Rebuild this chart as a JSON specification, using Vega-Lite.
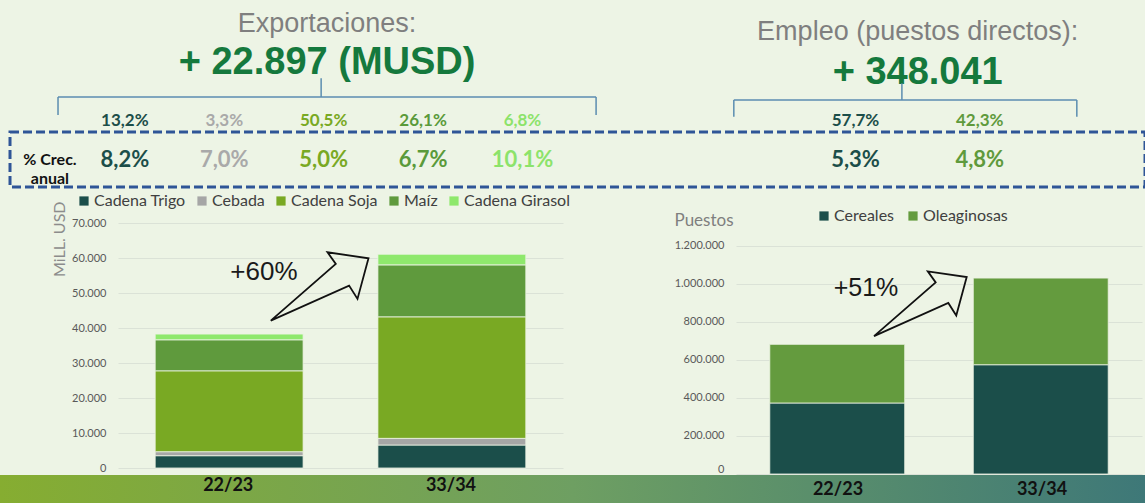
{
  "$schema": "https://vega.github.io/schema/vega-lite/v6.json",
  "background": "#edf4e5",
  "padding": 0,
  "columns": 1,
  "align": "none",
  "spacing": 0,
  "config": {
    "view": {"stroke": null},
    "locale": {"number": {"decimal": ",", "thousands": ".", "grouping": [3], "currency": ["", " USD"]}},
    "axis": {"labelFont": "Lato", "titleFont": "Lato"},
    "legend": {"labelFont": "Lato"}
  },
  "datasets": {
    "cabecera": [
      {"bloque": "Exportaciones", "titulo": "Exportaciones:", "valor": "+ 22.897 (MUSD)"},
      {"bloque": "Empleo", "titulo": "Empleo (puestos directos):", "valor": "+ 348.041"}
    ],
    "participacion": [
      {"grupo": "Exportaciones", "cadena": "Cadena Trigo", "participacion": 0.132, "crecimiento": 0.082},
      {"grupo": "Exportaciones", "cadena": "Cebada", "participacion": 0.033, "crecimiento": 0.070},
      {"grupo": "Exportaciones", "cadena": "Cadena Soja", "participacion": 0.505, "crecimiento": 0.050},
      {"grupo": "Exportaciones", "cadena": "Maíz", "participacion": 0.261, "crecimiento": 0.067},
      {"grupo": "Exportaciones", "cadena": "Cadena Girasol", "participacion": 0.068, "crecimiento": 0.101},
      {"grupo": "Empleo", "cadena": "Cereales", "participacion": 0.577, "crecimiento": 0.053},
      {"grupo": "Empleo", "cadena": "Oleaginosas", "participacion": 0.423, "crecimiento": 0.048}
    ],
    "indicador": [{"indicador": "% Crec.\nanual"}],
    "exportaciones": [
      {"campaña": "22/23", "cadena": "Cadena Trigo", "orden": 1, "valor": 3520},
      {"campaña": "22/23", "cadena": "Cebada", "orden": 2, "valor": 1150},
      {"campaña": "22/23", "cadena": "Cadena Soja", "orden": 3, "valor": 23130},
      {"campaña": "22/23", "cadena": "Maíz", "orden": 4, "valor": 8870},
      {"campaña": "22/23", "cadena": "Cadena Girasol", "orden": 5, "valor": 1630},
      {"campaña": "33/34", "cadena": "Cadena Trigo", "orden": 1, "valor": 6570},
      {"campaña": "33/34", "cadena": "Cebada", "orden": 2, "valor": 1910},
      {"campaña": "33/34", "cadena": "Cadena Soja", "orden": 3, "valor": 34760},
      {"campaña": "33/34", "cadena": "Maíz", "orden": 4, "valor": 14860},
      {"campaña": "33/34", "cadena": "Cadena Girasol", "orden": 5, "valor": 3040}
    ],
    "empleo": [
      {"campaña": "22/23", "cadena": "Cereales", "orden": 1, "valor": 373000},
      {"campaña": "22/23", "cadena": "Oleaginosas", "orden": 2, "valor": 308000},
      {"campaña": "33/34", "cadena": "Cereales", "orden": 1, "valor": 574000},
      {"campaña": "33/34", "cadena": "Oleaginosas", "orden": 2, "valor": 455000}
    ],
    "variaciones": [
      {"grafico": "exportaciones", "variacion": 0.60},
      {"grafico": "empleo", "variacion": 0.51}
    ],
    "campanas": [
      {"grafico": "Exportaciones", "campaña": "22/23"},
      {"grafico": "Exportaciones", "campaña": "33/34"},
      {"grafico": "Empleo", "campaña": "22/23"},
      {"grafico": "Empleo", "campaña": "33/34"}
    ]
  },
  "resolve": {"scale": {"color": "independent", "x": "independent", "y": "independent"}, "legend": {"color": "independent"}},
  "concat": [
    {
      "width": 1145,
      "height": 130,
      "layer": [
        {
          "data": {"name": "cabecera"},
          "transform": [{"filter": "datum.bloque === 'Exportaciones'"}],
          "layer": [
            {
              "mark": {"type": "text", "font": "Liberation Sans", "fontSize": 27, "color": "#7f7f7f", "align": "center", "baseline": "alphabetic"},
              "encoding": {
                "x": {"field": "bloque", "type": "nominal", "bandPosition": 0.5, "scale": {"type": "band", "paddingInner": 0, "paddingOuter": 0.564, "align": 0.0956}, "axis": null},
                "y": {"datum": "titulo", "type": "nominal", "bandPosition": 0.975, "scale": {"type": "band", "domain": ["titulo", "valor", "llave", "participacion"], "paddingInner": 0, "paddingOuter": 0}, "axis": null},
                "text": {"field": "titulo"}
              }
            },
            {
              "mark": {"type": "text", "font": "Liberation Sans", "fontSize": 38, "fontWeight": "bold", "color": "#15793d", "align": "center", "baseline": "alphabetic"},
              "encoding": {
                "x": {"field": "bloque", "type": "nominal", "bandPosition": 0.5, "axis": null},
                "y": {"datum": "valor", "type": "nominal", "bandPosition": 1.277, "axis": null},
                "text": {"field": "valor"}
              }
            },
            {
              "mark": {"type": "rule", "color": "#5b8db0", "strokeWidth": 1.5},
              "encoding": {
                "x": {"field": "bloque", "type": "nominal", "bandPosition": 0, "axis": null},
                "x2": {"field": "bloque", "bandPosition": 1},
                "y": {"datum": "llave", "type": "nominal", "bandPosition": 0.985, "axis": null}
              }
            },
            {
              "mark": {"type": "rule", "color": "#5b8db0", "strokeWidth": 1.5},
              "encoding": {
                "x": {"field": "bloque", "type": "nominal", "bandPosition": 0, "axis": null},
                "y": {"datum": "llave", "type": "nominal", "bandPosition": 0.985, "axis": null},
                "y2": {"datum": "llave", "bandPosition": 1.538}
              }
            },
            {
              "mark": {"type": "rule", "color": "#5b8db0", "strokeWidth": 1.5},
              "encoding": {
                "x": {"field": "bloque", "type": "nominal", "bandPosition": 1, "axis": null},
                "y": {"datum": "llave", "type": "nominal", "bandPosition": 0.985, "axis": null},
                "y2": {"datum": "llave", "bandPosition": 1.538}
              }
            },
            {
              "mark": {"type": "rule", "color": "#5b8db0", "strokeWidth": 1.5},
              "encoding": {
                "x": {"field": "bloque", "type": "nominal", "bandPosition": 0.489, "axis": null},
                "y": {"datum": "llave", "type": "nominal", "bandPosition": 0.985, "axis": null},
                "y2": {"datum": "llave", "bandPosition": 0.409}
              }
            }
          ]
        },
        {
          "data": {"name": "cabecera"},
          "transform": [{"filter": "datum.bloque === 'Empleo'"}],
          "layer": [
            {
              "mark": {"type": "text", "font": "Liberation Sans", "fontSize": 27, "color": "#7f7f7f", "align": "center", "baseline": "alphabetic", "dy": 8},
              "encoding": {
                "x": {"field": "bloque", "type": "nominal", "bandPosition": 0.536, "scale": {"type": "band", "paddingInner": 0.1446, "paddingOuter": 1, "align": 0.915}, "axis": null},
                "y": {"datum": "titulo", "type": "nominal", "bandPosition": 0.975, "scale": {"type": "band", "domain": ["titulo", "valor", "llave", "participacion"], "paddingInner": 0, "paddingOuter": 0}, "axis": null},
                "text": {"field": "titulo"}
              }
            },
            {
              "mark": {"type": "text", "font": "Liberation Sans", "fontSize": 38, "fontWeight": "bold", "color": "#15793d", "align": "center", "baseline": "alphabetic", "dy": 10},
              "encoding": {
                "x": {"field": "bloque", "type": "nominal", "bandPosition": 0.536, "axis": null},
                "y": {"datum": "valor", "type": "nominal", "bandPosition": 1.277, "axis": null},
                "text": {"field": "valor"}
              }
            },
            {
              "mark": {"type": "rule", "color": "#5b8db0", "strokeWidth": 1.5},
              "encoding": {
                "x": {"field": "bloque", "type": "nominal", "bandPosition": 0, "axis": null},
                "x2": {"field": "bloque", "bandPosition": 1},
                "y": {"datum": "llave", "type": "nominal", "bandPosition": 1.077, "axis": null}
              }
            },
            {
              "mark": {"type": "rule", "color": "#5b8db0", "strokeWidth": 1.5},
              "encoding": {
                "x": {"field": "bloque", "type": "nominal", "bandPosition": 0, "axis": null},
                "y": {"datum": "llave", "type": "nominal", "bandPosition": 1.077, "axis": null},
                "y2": {"datum": "llave", "bandPosition": 1.591}
              }
            },
            {
              "mark": {"type": "rule", "color": "#5b8db0", "strokeWidth": 1.5},
              "encoding": {
                "x": {"field": "bloque", "type": "nominal", "bandPosition": 1, "axis": null},
                "y": {"datum": "llave", "type": "nominal", "bandPosition": 1.077, "axis": null},
                "y2": {"datum": "llave", "bandPosition": 1.591}
              }
            },
            {
              "mark": {"type": "rule", "color": "#5b8db0", "strokeWidth": 1.5},
              "encoding": {
                "x": {"field": "bloque", "type": "nominal", "bandPosition": 0.49, "axis": null},
                "y": {"datum": "llave", "type": "nominal", "bandPosition": 1.077, "axis": null},
                "y2": {"datum": "llave", "bandPosition": 0.563}
              }
            }
          ]
        },
        {
          "data": {"name": "participacion"},
          "layer": [
            {
              "transform": [{"filter": "datum.grupo === 'Exportaciones'"}],
              "mark": {"type": "text", "font": "Lato", "fontSize": 17, "fontWeight": "bold", "baseline": "middle", "align": "center"},
              "encoding": {
                "x": {"field": "grupo", "type": "nominal", "sort": null, "scale": {"type": "band", "domain": ["Exportaciones", "Empleo"], "paddingInner": 0.1323, "paddingOuter": 0.0656, "align": 1}, "axis": null},
                "xOffset": {"field": "cadena", "type": "nominal", "sort": null, "scale": {"type": "band", "paddingInner": 0, "paddingOuter": 0}},
                "y": {"datum": "participacion", "type": "nominal", "bandPosition": 0.723, "scale": {"type": "band", "domain": ["titulo", "valor", "llave", "participacion"], "paddingInner": 0, "paddingOuter": 0}, "axis": null},
                "text": {"field": "participacion", "format": ".1%"},
                "color": {"field": "cadena", "type": "nominal", "legend": null, "scale": {"domain": ["Cadena Trigo", "Cebada", "Cadena Soja", "Maíz", "Cadena Girasol", "Cereales", "Oleaginosas"], "range": ["#1c4e49", "#a9a9a9", "#79a923", "#5a9a3a", "#8ce36a", "#1c4e49", "#5f9a3c"]}}
              }
            },
            {
              "transform": [{"filter": "datum.grupo === 'Empleo'"}],
              "mark": {"type": "text", "font": "Lato", "fontSize": 17, "fontWeight": "bold", "baseline": "middle", "align": "center"},
              "encoding": {
                "x": {"field": "grupo", "type": "nominal", "sort": null, "axis": null},
                "xOffset": {"field": "cadena", "type": "nominal", "sort": null, "scale": {"type": "band", "paddingInner": 0, "paddingOuter": 1, "align": 0.585}},
                "y": {"datum": "participacion", "type": "nominal", "bandPosition": 0.723, "axis": null},
                "text": {"field": "participacion", "format": ".1%"},
                "color": {"field": "cadena", "type": "nominal", "legend": null}
              }
            }
          ],
          "resolve": {"scale": {"xOffset": "independent"}}
        }
      ],
      "resolve": {"scale": {"x": "independent"}}
    },
    {
      "width": 1145,
      "height": 55,
      "layer": [
        {
          "data": {"name": "indicador"},
          "layer": [
            {
              "mark": {"type": "rect", "fill": "transparent", "stroke": "#2f5597", "strokeWidth": 3, "strokeDash": [9, 4]},
              "encoding": {
                "x": {"field": "indicador", "type": "nominal", "scale": {"type": "band", "paddingInner": 0, "paddingOuter": 0.00441, "align": 1}, "axis": null}
              }
            },
            {
              "mark": {"type": "text", "lineBreak": "\n", "font": "Lato", "fontSize": 16, "fontWeight": "bold", "color": "#111111", "lineHeight": 19, "align": "center", "baseline": "middle"},
              "encoding": {
                "x": {"field": "indicador", "type": "nominal", "bandPosition": 0.0352, "axis": null},
                "text": {"field": "indicador"}
              }
            }
          ]
        },
        {
          "data": {"name": "participacion"},
          "layer": [
            {
              "transform": [{"filter": "datum.grupo === 'Exportaciones'"}],
              "mark": {"type": "text", "font": "Lato", "fontSize": 22, "fontWeight": "bold", "baseline": "middle", "align": "center"},
              "encoding": {
                "x": {"field": "grupo", "type": "nominal", "sort": null, "scale": {"type": "band", "domain": ["Exportaciones", "Empleo"], "paddingInner": 0.1323, "paddingOuter": 0.0656, "align": 1}, "axis": null},
                "xOffset": {"field": "cadena", "type": "nominal", "sort": null, "scale": {"type": "band", "paddingInner": 0, "paddingOuter": 0}},
                "text": {"field": "crecimiento", "format": ".1%"},
                "color": {"field": "cadena", "type": "nominal", "legend": null, "scale": {"domain": ["Cadena Trigo", "Cebada", "Cadena Soja", "Maíz", "Cadena Girasol", "Cereales", "Oleaginosas"], "range": ["#1c4e49", "#a9a9a9", "#79a923", "#5a9a3a", "#8ce36a", "#1c4e49", "#5f9a3c"]}}
              }
            },
            {
              "transform": [{"filter": "datum.grupo === 'Empleo'"}],
              "mark": {"type": "text", "font": "Lato", "fontSize": 22, "fontWeight": "bold", "baseline": "middle", "align": "center"},
              "encoding": {
                "x": {"field": "grupo", "type": "nominal", "sort": null, "axis": null},
                "xOffset": {"field": "cadena", "type": "nominal", "sort": null, "scale": {"type": "band", "paddingInner": 0, "paddingOuter": 1, "align": 0.585}},
                "text": {"field": "crecimiento", "format": ".1%"},
                "color": {"field": "cadena", "type": "nominal", "legend": null}
              }
            }
          ],
          "resolve": {"scale": {"xOffset": "independent"}}
        }
      ],
      "resolve": {"scale": {"x": "independent"}}
    },
    {
      "spacing": 0,
      "resolve": {"scale": {"color": "independent"}, "legend": {"color": "independent"}},
      "hconcat": [
        {
          "width": 1,
          "height": 1,
          "data": {"values": []},
          "mark": {"type": "rect"},
          "encoding": {}
        },
        {
          "width": 445,
          "height": 279,
          "layer": [
            {
              "data": {"name": "exportaciones"},
              "mark": {"type": "bar", "stroke": "#edf4e5", "strokeWidth": 0.8},
              "encoding": {
                "x": {"field": "campaña", "type": "nominal", "sort": null, "scale": {"type": "band", "paddingInner": 0.336, "paddingOuter": 0.167}, "axis": null},
                "y": {
                  "field": "valor", "type": "quantitative", "stack": "zero",
                  "scale": {"domain": [0, 79800], "nice": false},
                  "axis": {
                    "values": [0, 10000, 20000, 30000, 40000, 50000, 60000, 70000], "tickCount": 12,
                    "format": ",.0f", "grid": true, "gridColor": "#dbe2d7", "gridWidth": 1.2, "labelOverlap": false,
                    "domain": false, "ticks": false, "labelPadding": 12, "labelFontSize": 11, "labelColor": "#595959",
                    "title": ["", "MiLL. USD"], "titleAngle": -90, "titleAlign": "right", "titleBaseline": "top",
                    "titleX": -116, "titleY": 12, "titleLineHeight": 49, "titleFontSize": 16,
                    "titleFontWeight": "normal", "titleColor": "#8c8c8c"
                  }
                },
                "color": {
                  "field": "cadena", "type": "nominal",
                  "scale": {"domain": ["Cadena Trigo", "Cebada", "Cadena Soja", "Maíz", "Cadena Girasol"], "range": ["#1b4e4a", "#a6a6a6", "#79a923", "#5f9a3d", "#8ee86c"]},
                  "legend": {"orient": "none", "legendX": -42, "legendY": 4, "direction": "horizontal", "title": null, "symbolType": "square", "symbolSize": 85, "symbolStrokeWidth": 0, "labelFontSize": 16, "labelColor": "#404040", "columnPadding": 8, "labelOffset": 2}
                },
                "order": {"field": "orden", "type": "quantitative"}
              }
            },
            {
              "data": {"name": "variaciones"},
              "transform": [{"filter": "datum.grafico === 'exportaciones'"}],
              "mark": {"type": "text", "font": "Liberation Sans", "fontSize": 26, "color": "#1a1a1a", "align": "center", "baseline": "alphabetic"},
              "encoding": {
                "x": {"datum": "22/23", "type": "nominal", "bandPosition": 0.735},
                "y": {"datum": 53800, "type": "quantitative"},
                "text": {"field": "variacion", "format": "+.0%"}
              }
            },
            {
              "data": {"name": "variaciones"},
              "transform": [{"filter": "datum.grafico === 'exportaciones'"}],
              "mark": {"type": "point", "shape": "M-0.977,0.683L0.323,-0.451L0.157,-0.683L0.977,-0.563L0.757,0.249L0.589,-0.017Z", "size": 10000, "filled": false, "color": "#111111", "strokeWidth": 1.8, "opacity": 1, "strokeJoin": "miter"},
              "encoding": {
                "x": {"datum": "22/23", "type": "nominal", "bandPosition": 1.112},
                "y": {"datum": 51930, "type": "quantitative"}
              }
            }
          ]
        },
        {
          "width": 104,
          "height": 1,
          "data": {"values": []},
          "mark": {"type": "rect"},
          "encoding": {}
        },
        {
          "width": 406,
          "height": 285,
          "layer": [
            {
              "data": {"name": "empleo"},
              "mark": {"type": "bar", "stroke": "#edf4e5", "strokeWidth": 0.8},
              "encoding": {
                "x": {"field": "campaña", "type": "nominal", "sort": null, "scale": {"type": "band", "paddingInner": 0.337, "paddingOuter": 0.166}, "axis": null},
                "y": {
                  "field": "valor", "type": "quantitative", "stack": "zero",
                  "scale": {"domain": [0, 1497000], "nice": false},
                  "axis": {
                    "values": [0, 200000, 400000, 600000, 800000, 1000000, 1200000], "tickCount": 12,
                    "format": ",.0f", "grid": true, "gridColor": "#dbe2d7", "gridWidth": 1.2, "labelOverlap": false,
                    "domain": false, "ticks": false, "labelPadding": 12, "labelFontSize": 11, "labelColor": "#595959", "labelFlush": true,
                    "title": "Puestos", "titleAngle": 0, "titleAlign": "left", "titleBaseline": "middle",
                    "titleX": -62, "titleY": 31, "titleFontSize": 17, "titleFontWeight": "normal", "titleColor": "#7f7f7f"
                  }
                },
                "color": {
                  "field": "cadena", "type": "nominal",
                  "scale": {"domain": ["Cereales", "Oleaginosas"], "range": ["#1b4e4a", "#649b3e"]},
                  "legend": {"orient": "none", "legendX": 80, "legendY": 19, "direction": "horizontal", "title": null, "symbolType": "square", "symbolSize": 85, "symbolStrokeWidth": 0, "labelFontSize": 16, "labelColor": "#404040", "columnPadding": 10, "labelOffset": 2}
                },
                "order": {"field": "orden", "type": "quantitative"}
              }
            },
            {
              "data": {"name": "variaciones"},
              "transform": [{"filter": "datum.grafico === 'empleo'"}],
              "mark": {"type": "text", "font": "Liberation Sans", "fontSize": 25, "color": "#1a1a1a", "align": "center", "baseline": "alphabetic"},
              "encoding": {
                "x": {"datum": "22/23", "type": "nominal", "bandPosition": 0.713},
                "y": {"datum": 933600, "type": "quantitative"},
                "text": {"field": "variacion", "format": "+.0%"}
              }
            },
            {
              "data": {"name": "variaciones"},
              "transform": [{"filter": "datum.grafico === 'empleo'"}],
              "mark": {"type": "point", "shape": "M-0.977,0.683L0.323,-0.451L0.157,-0.683L0.977,-0.563L0.757,0.249L0.589,-0.017Z", "size": 9000, "filled": false, "color": "#111111", "strokeWidth": 1.8, "opacity": 1, "strokeJoin": "miter"},
              "encoding": {
                "x": {"datum": "22/23", "type": "nominal", "bandPosition": 1.116},
                "y": {"datum": 894200, "type": "quantitative"}
              }
            }
          ]
        }
      ]
    },
    {
      "width": 1145,
      "height": 30,
      "data": {"name": "campanas"},
      "layer": [
        {
          "mark": {"type": "rect", "fill": {"gradient": "linear", "x1": 0, "y1": 0, "x2": 1, "y2": 0, "stops": [{"offset": 0, "color": "#86ad31"}, {"offset": 0.5, "color": "#6e9f62"}, {"offset": 1, "color": "#3e7878"}]}},
          "encoding": {}
        },
        {
          "layer": [
            {
              "transform": [{"filter": "datum.grafico === 'Exportaciones'"}],
              "mark": {"type": "text", "font": "Lato", "fontSize": 18, "fontWeight": "bold", "color": "#111111", "align": "center", "baseline": "middle", "dy": -4},
              "encoding": {
                "x": {"field": "grafico", "type": "nominal", "sort": null, "scale": {"type": "band", "domain": ["Exportaciones", "Empleo"], "paddingInner": 0.234, "paddingOuter": 0.1013, "align": 0.9915}, "axis": null},
                "xOffset": {"field": "campaña", "type": "nominal", "sort": null, "scale": {"type": "band", "paddingInner": 0, "paddingOuter": 0}},
                "text": {"field": "campaña"}
              }
            },
            {
              "transform": [{"filter": "datum.grafico === 'Empleo'"}],
              "mark": {"type": "text", "font": "Lato", "fontSize": 18, "fontWeight": "bold", "color": "#111111", "align": "center", "baseline": "middle"},
              "encoding": {
                "x": {"field": "grafico", "type": "nominal", "sort": null, "axis": null},
                "xOffset": {"field": "campaña", "type": "nominal", "sort": null, "scale": {"type": "band", "paddingInner": 0, "paddingOuter": 0.092, "align": 1}},
                "text": {"field": "campaña"}
              }
            }
          ],
          "resolve": {"scale": {"xOffset": "independent"}}
        }
      ]
    }
  ]
}
